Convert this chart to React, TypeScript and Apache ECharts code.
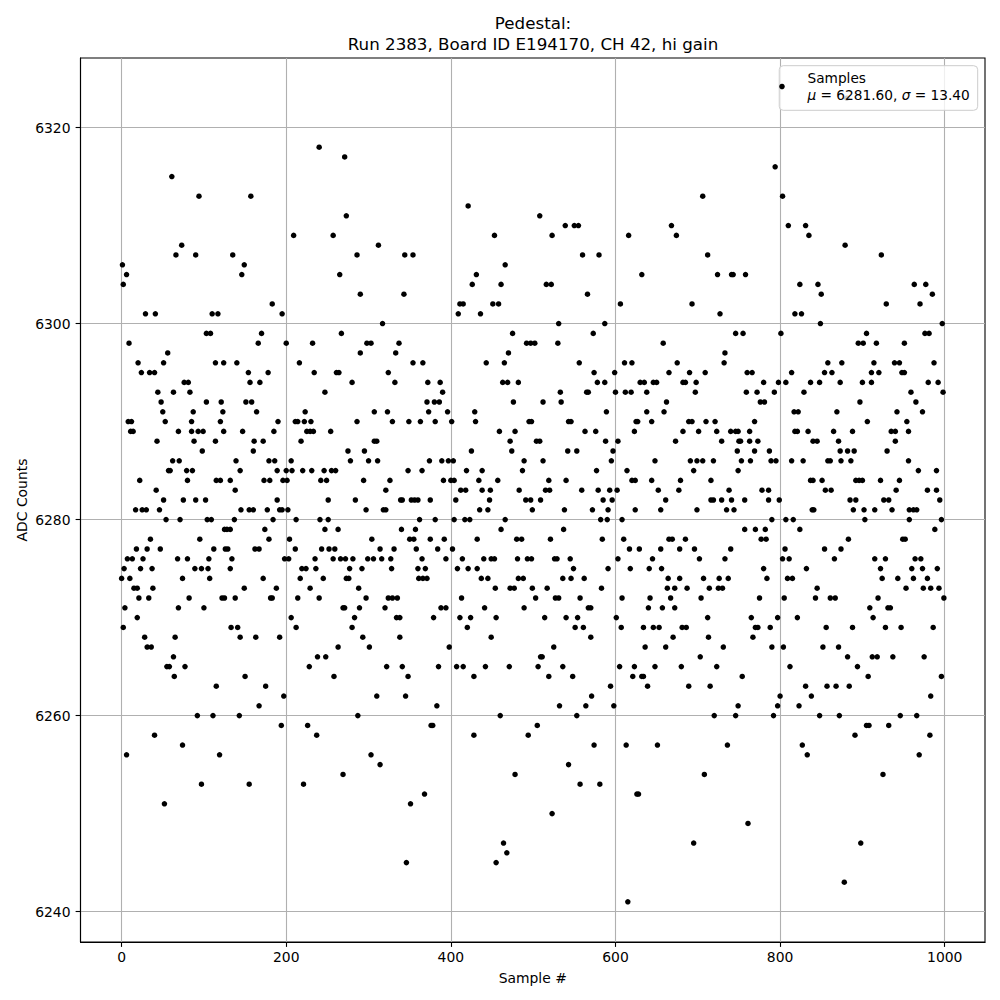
import React, { useEffect, useRef } from 'react';
import * as echarts from 'echarts';

const TITLE = 'Pedestal:\nRun 2383, Board ID E194170, CH 42, hi gain';
const X_LABEL = 'Sample #';
const Y_LABEL = 'ADC Counts';
const SERIES_NAME = 'Samples';
const MU = '6281.60';
const SIGMA = '13.40';
const xTicks = [0, 200, 400, 600, 800, 1000];
const yTicks = [6240, 6260, 6280, 6300, 6320];
const xRange = [-49.95, 1048.95];
const yRange = [6236.9, 6327.1];

// [sample #, ADC counts], in blocks of ~125 samples
const seg0 = [[61,6315],[94,6313],[73,6308],[66,6307],[90,6307],[1,6306],[6,6305],[2,6304],[29,6301],[41,6301],[110,6301],[117,6301],[103,6299],[108,6299],[9,6298],[20,6296],[51,6296],[114,6296],[124,6296],[56,6297],[24,6295],[34,6295],[40,6295],[76,6294],[81,6294],[44,6293],[63,6293],[83,6293],[48,6292],[50,6291],[87,6291],[103,6292],[121,6292],[123,6291],[8,6290],[12,6290],[53,6290],[85,6290],[120,6290],[11,6289],[14,6289],[69,6289],[85,6289],[93,6289],[99,6289],[124,6289],[43,6288],[88,6288],[114,6288],[98,6287],[62,6286],[70,6286],[57,6285],[59,6285],[79,6285],[86,6285],[22,6284],[80,6284],[115,6284],[120,6284],[42,6283],[51,6282],[75,6282],[90,6282],[102,6282],[17,6281],[25,6281],[30,6281],[46,6281],[54,6280],[71,6280],[104,6280],[109,6280],[125,6279],[35,6278],[95,6278],[18,6277],[31,6277],[47,6277],[112,6277],[126,6277],[7,6276],[13,6276],[26,6276],[68,6276],[80,6276],[106,6276],[3,6275],[23,6275],[37,6275],[89,6275],[97,6275],[105,6275],[0,6274],[10,6274],[74,6274],[107,6274],[15,6273],[19,6273],[38,6273],[21,6272],[33,6272],[82,6272],[122,6272],[125,6272],[4,6271],[69,6271],[100,6271],[19,6270],[2,6269],[28,6268],[65,6268],[31,6267],[36,6267],[63,6266],[55,6265],[58,6265],[77,6265],[64,6264],[115,6263],[92,6260],[111,6260],[40,6258],[74,6257],[6,6256],[119,6256],[97,6253],[52,6251]];

const seg1 = [[240,6318],[157,6313],[209,6309],[135,6307],[149,6306],[146,6305],[183,6302],[195,6301],[170,6299],[166,6298],[200,6298],[232,6298],[140,6296],[216,6296],[154,6295],[178,6295],[234,6295],[156,6294],[168,6294],[247,6293],[151,6292],[158,6292],[164,6291],[223,6291],[190,6290],[211,6290],[214,6290],[222,6290],[230,6290],[147,6289],[185,6289],[225,6289],[229,6289],[233,6289],[161,6288],[172,6288],[218,6288],[160,6287],[139,6286],[179,6286],[186,6286],[206,6286],[144,6285],[189,6285],[200,6285],[207,6285],[220,6285],[231,6285],[246,6285],[132,6284],[173,6284],[180,6284],[196,6284],[201,6284],[242,6284],[249,6284],[138,6283],[189,6282],[251,6282],[145,6281],[155,6281],[160,6281],[177,6281],[192,6281],[195,6281],[202,6281],[137,6280],[184,6280],[212,6280],[241,6280],[251,6280],[128,6279],[132,6279],[174,6279],[247,6279],[179,6278],[204,6278],[129,6277],[162,6277],[167,6277],[211,6277],[243,6277],[134,6276],[198,6276],[203,6276],[235,6276],[132,6275],[219,6275],[224,6275],[236,6275],[172,6274],[217,6274],[245,6274],[149,6273],[188,6273],[229,6273],[138,6272],[181,6272],[183,6272],[214,6272],[240,6272],[206,6270],[133,6269],[141,6269],[212,6269],[144,6268],[163,6268],[192,6268],[238,6266],[248,6266],[228,6265],[150,6264],[175,6263],[197,6262],[167,6261],[143,6260],[194,6259],[226,6259],[237,6258],[155,6253],[221,6253]];

const seg2 = [[271,6317],[273,6311],[257,6309],[312,6308],[286,6307],[344,6307],[354,6307],[265,6305],[290,6303],[343,6303],[317,6300],[267,6299],[298,6298],[303,6298],[337,6298],[290,6297],[333,6297],[354,6296],[366,6296],[261,6295],[264,6295],[324,6295],[280,6294],[332,6294],[372,6294],[371,6292],[373,6291],[307,6291],[323,6291],[286,6290],[329,6290],[349,6290],[363,6290],[254,6289],[307,6288],[310,6288],[275,6287],[295,6287],[278,6286],[300,6286],[311,6286],[374,6286],[255,6285],[260,6285],[348,6285],[365,6285],[294,6284],[326,6284],[321,6283],[284,6282],[339,6282],[341,6282],[352,6282],[356,6282],[360,6282],[375,6282],[297,6281],[318,6281],[321,6281],[362,6280],[263,6279],[340,6279],[357,6279],[350,6278],[355,6278],[375,6278],[304,6278],[252,6277],[259,6277],[314,6277],[331,6277],[358,6277],[257,6276],[266,6276],[272,6276],[281,6276],[299,6276],[306,6276],[316,6276],[327,6276],[365,6276],[277,6275],[292,6275],[328,6275],[360,6275],[369,6275],[273,6274],[276,6274],[361,6274],[366,6274],[371,6274],[288,6273],[297,6272],[324,6272],[329,6272],[335,6272],[269,6271],[271,6271],[289,6271],[320,6271],[334,6270],[338,6270],[283,6270],[280,6269],[293,6268],[338,6268],[263,6267],[301,6267],[322,6265],[341,6265],[258,6264],[348,6264],[310,6262],[345,6262],[287,6260],[376,6259],[303,6256],[314,6255],[269,6254],[368,6252],[351,6251],[346,6245]];

const seg3 = [[421,6312],[453,6309],[466,6306],[431,6305],[426,6304],[461,6304],[411,6302],[415,6302],[451,6302],[458,6302],[409,6301],[436,6301],[475,6299],[492,6298],[497,6298],[470,6297],[443,6296],[465,6296],[387,6294],[463,6294],[469,6294],[482,6294],[390,6293],[380,6292],[386,6292],[476,6292],[396,6291],[429,6291],[381,6290],[401,6290],[430,6290],[495,6290],[498,6290],[459,6289],[478,6289],[472,6288],[425,6287],[474,6287],[389,6286],[397,6286],[403,6286],[489,6286],[419,6285],[438,6285],[487,6285],[391,6284],[400,6284],[404,6284],[434,6284],[457,6284],[412,6283],[418,6283],[438,6283],[448,6283],[483,6283],[406,6282],[447,6282],[491,6282],[497,6282],[435,6281],[445,6281],[499,6281],[381,6280],[404,6280],[417,6280],[423,6280],[466,6280],[461,6279],[392,6278],[432,6278],[480,6278],[486,6278],[384,6277],[402,6277],[394,6276],[414,6276],[440,6276],[449,6276],[453,6276],[481,6276],[493,6276],[498,6276],[408,6275],[421,6275],[432,6275],[437,6274],[445,6274],[482,6274],[488,6274],[454,6273],[472,6273],[477,6273],[499,6273],[413,6272],[388,6271],[394,6271],[441,6271],[489,6271],[379,6270],[411,6270],[424,6270],[455,6270],[420,6269],[449,6268],[398,6267],[385,6265],[407,6265],[415,6265],[442,6265],[471,6265],[428,6264],[383,6261],[460,6260],[378,6259],[428,6258],[494,6258],[478,6254],[464,6247],[468,6246],[455,6245]];

const seg4 = [[508,6311],[523,6309],[539,6310],[550,6310],[555,6310],[616,6309],[560,6307],[580,6307],[516,6304],[522,6304],[566,6303],[606,6302],[531,6300],[587,6300],[573,6299],[502,6298],[530,6298],[556,6296],[611,6296],[620,6296],[574,6295],[599,6295],[578,6294],[587,6294],[533,6293],[565,6293],[567,6293],[600,6293],[612,6293],[619,6293],[512,6292],[534,6292],[589,6291],[543,6290],[546,6290],[625,6290],[563,6289],[576,6289],[623,6289],[504,6288],[508,6288],[588,6288],[603,6288],[542,6287],[553,6287],[597,6287],[512,6286],[595,6286],[577,6285],[614,6285],[519,6284],[540,6284],[620,6284],[624,6284],[515,6283],[520,6283],[559,6283],[579,6283],[593,6283],[602,6283],[509,6282],[585,6282],[596,6282],[538,6281],[572,6281],[591,6281],[624,6281],[582,6280],[590,6280],[608,6280],[537,6279],[521,6278],[584,6278],[610,6278],[617,6277],[526,6276],[529,6276],[545,6276],[603,6276],[549,6275],[591,6275],[618,6275],[536,6274],[546,6274],[562,6274],[517,6273],[583,6273],[503,6272],[527,6272],[531,6272],[557,6272],[608,6272],[567,6271],[570,6271],[514,6270],[540,6270],[554,6270],[601,6270],[551,6269],[561,6269],[607,6269],[570,6268],[525,6267],[509,6266],[511,6266],[506,6265],[536,6265],[605,6265],[623,6265],[519,6264],[548,6264],[621,6264],[594,6263],[571,6262],[532,6261],[564,6261],[598,6261],[553,6260],[505,6259],[574,6257],[613,6257],[543,6255],[557,6253],[581,6253],[626,6252],[523,6250],[615,6241]];

const seg5 = [[706,6313],[668,6310],[674,6309],[712,6307],[632,6305],[724,6305],[741,6305],[743,6305],[693,6302],[727,6301],[746,6299],[658,6298],[733,6297],[675,6296],[732,6296],[665,6295],[690,6295],[709,6295],[630,6294],[635,6294],[646,6294],[650,6294],[682,6294],[685,6294],[698,6294],[638,6293],[697,6293],[662,6292],[638,6291],[659,6291],[627,6290],[644,6290],[689,6290],[693,6290],[710,6290],[721,6290],[682,6289],[701,6289],[723,6289],[740,6289],[746,6289],[749,6289],[673,6288],[729,6288],[750,6288],[748,6287],[648,6286],[691,6286],[699,6286],[706,6286],[719,6286],[695,6285],[749,6285],[644,6284],[679,6284],[716,6284],[652,6283],[677,6283],[738,6283],[661,6282],[716,6282],[719,6282],[729,6282],[741,6282],[655,6281],[699,6281],[735,6281],[744,6281],[665,6278],[669,6278],[685,6278],[629,6277],[655,6277],[678,6277],[696,6277],[740,6277],[645,6276],[702,6276],[733,6276],[641,6275],[656,6275],[664,6274],[678,6274],[707,6274],[726,6274],[737,6274],[663,6273],[672,6273],[687,6273],[714,6273],[725,6273],[730,6273],[642,6272],[667,6272],[704,6272],[640,6271],[657,6271],[672,6271],[712,6270],[634,6269],[646,6269],[653,6269],[681,6269],[686,6269],[670,6268],[713,6268],[636,6267],[661,6267],[731,6267],[703,6266],[648,6265],[680,6265],[723,6265],[632,6264],[634,6264],[639,6263],[689,6263],[715,6263],[749,6261],[720,6260],[746,6260],[651,6257],[736,6257],[708,6254],[628,6252],[695,6247]];

const seg6 = [[794,6316],[803,6313],[810,6310],[831,6310],[835,6309],[758,6305],[824,6304],[846,6304],[850,6303],[818,6301],[826,6301],[849,6300],[755,6299],[801,6299],[858,6296],[875,6296],[760,6295],[766,6295],[814,6295],[854,6295],[863,6295],[780,6294],[798,6294],[807,6294],[837,6294],[848,6294],[873,6294],[759,6293],[772,6293],[793,6293],[829,6293],[776,6292],[781,6292],[817,6291],[822,6291],[869,6291],[769,6290],[763,6289],[818,6289],[821,6289],[834,6289],[865,6289],[752,6288],[763,6288],[773,6288],[840,6288],[845,6288],[871,6288],[769,6287],[787,6287],[873,6287],[753,6286],[764,6286],[789,6286],[795,6286],[814,6286],[828,6286],[858,6286],[861,6286],[874,6286],[837,6284],[840,6284],[851,6284],[778,6283],[786,6283],[855,6283],[862,6283],[757,6282],[786,6282],[799,6282],[839,6281],[841,6281],[790,6280],[807,6280],[816,6280],[757,6279],[770,6279],[782,6279],[824,6279],[777,6278],[783,6278],[806,6277],[854,6277],[874,6277],[803,6276],[811,6276],[866,6276],[780,6275],[832,6275],[784,6274],[809,6274],[815,6274],[845,6273],[775,6272],[805,6272],[843,6272],[861,6272],[867,6272],[765,6270],[797,6270],[821,6270],[770,6269],[773,6269],[788,6269],[856,6269],[767,6268],[790,6267],[804,6267],[852,6267],[871,6267],[812,6265],[754,6264],[831,6263],[857,6263],[868,6263],[838,6262],[800,6262],[797,6261],[823,6261],[792,6260],[848,6260],[872,6260],[827,6257],[833,6256],[761,6249]];

const seg7 = [[879,6308],[923,6307],[963,6304],[977,6304],[985,6303],[929,6302],[970,6302],[997,6300],[905,6299],[976,6299],[981,6299],[895,6298],[901,6298],[917,6298],[951,6298],[914,6296],[939,6296],[945,6296],[987,6296],[911,6295],[920,6295],[948,6295],[951,6295],[900,6294],[911,6294],[980,6294],[992,6294],[959,6293],[998,6293],[897,6292],[965,6292],[942,6291],[973,6291],[906,6290],[954,6290],[888,6289],[935,6289],[940,6289],[956,6289],[940,6288],[882,6287],[890,6287],[930,6287],[886,6286],[956,6286],[968,6285],[990,6285],[892,6284],[896,6284],[900,6284],[922,6284],[945,6284],[941,6283],[979,6283],[990,6283],[885,6282],[892,6282],[926,6282],[932,6282],[994,6282],[889,6281],[902,6281],[915,6281],[936,6281],[957,6281],[962,6281],[966,6281],[903,6280],[957,6280],[996,6280],[988,6279],[883,6278],[949,6278],[952,6278],[915,6276],[928,6276],[964,6276],[971,6276],[922,6275],[960,6275],[973,6275],[991,6275],[924,6274],[943,6274],[962,6274],[979,6274],[953,6273],[974,6273],[983,6273],[993,6273],[919,6272],[999,6272],[909,6271],[931,6271],[934,6271],[913,6270],[888,6269],[928,6269],[947,6269],[986,6269],[882,6266],[912,6266],[918,6266],[937,6266],[975,6266],[894,6265],[907,6264],[996,6264],[884,6263],[983,6262],[946,6260],[966,6260],[891,6258],[905,6259],[908,6259],[932,6259],[982,6258],[969,6256],[925,6254],[898,6247],[878,6243],[881,6323]];

const samples = [...seg0, ...seg1, ...seg2, ...seg3, ...seg4, ...seg5, ...seg6, ...seg7];

const FONT = "'DejaVu Sans', 'Liberation Sans', sans-serif";

export default function App() {
  const ref = useRef<HTMLDivElement>(null);

  useEffect(() => {
    if (!ref.current) return;
    const chart = echarts.init(ref.current, undefined, { renderer: 'svg' });
    const axisCommon = {
      type: 'value',
      nameLocation: 'middle',
      nameMoveOverlap: false,
      nameTextStyle: { fontSize: 13.9, color: '#000', fontFamily: FONT },
      axisLine: { show: true, onZero: false, lineStyle: { color: '#000', width: 1.1 } },
      splitLine: { show: true, lineStyle: { color: '#b0b0b0', width: 1.1 } },
    };
    chart.setOption({
      animation: false,
      backgroundColor: '#ffffff',
      textStyle: { fontFamily: FONT },
      title: {
        text: TITLE,
        left: 533,
        top: 12.5,
        padding: 0,
        textAlign: 'center',
        textStyle: { fontSize: 16.7, fontWeight: 'normal', color: '#000', lineHeight: 21, fontFamily: FONT },
      },
      grid: {
        left: 80.5,
        right: 15,
        top: 58,
        bottom: 58,
        show: true,
        borderColor: '#000',
        borderWidth: 1.1,
        backgroundColor: 'transparent',
        containLabel: false,
      },
      xAxis: {
        ...axisCommon,
        min: xRange[0],
        max: xRange[1],
        name: X_LABEL,
        nameGap: 29,
        axisTick: { show: true, length: 4.9, lineStyle: { color: '#000', width: 1.1 }, customValues: xTicks },
        axisLabel: {
          customValues: xTicks,
          margin: 8,
          fontSize: 13.9,
          color: '#000',
          fontFamily: FONT,
          formatter: (v: number) => String(v),
        },
      },
      yAxis: {
        ...axisCommon,
        min: yRange[0],
        max: yRange[1],
        name: Y_LABEL,
        nameGap: 52,
        axisTick: { show: true, length: 4.9, lineStyle: { color: '#000', width: 1.1 }, customValues: yTicks },
        axisLabel: {
          customValues: yTicks,
          margin: 10,
          fontSize: 13.9,
          color: '#000',
          fontFamily: FONT,
          formatter: (v: number) => String(v),
        },
      },
      legend: {
        data: [{ name: SERIES_NAME, icon: 'circle' }],
        right: 22.3,
        top: 65.7,
        orient: 'vertical',
        padding: [3.5, 8, 6.5, 0],
        itemWidth: 41,
        itemHeight: 5.5,
        backgroundColor: 'rgba(255,255,255,0.8)',
        borderColor: '#cccccc',
        borderWidth: 1,
        borderRadius: 4,
        itemStyle: { color: '#000' },
        formatter: () => `{n|${SERIES_NAME}}\n{i|μ}{n| = ${MU}, }{i|σ}{n| = ${SIGMA}}`,
        textStyle: {
          color: '#000',
          fontSize: 13.7,
          lineHeight: 17.3,
          fontFamily: FONT,
          rich: {
            n: { fontSize: 13.7, lineHeight: 17.3, color: '#000', fontFamily: FONT },
            i: { fontSize: 13.7, lineHeight: 17.3, color: '#000', fontFamily: FONT, fontStyle: 'italic' },
          },
        },
      },
      series: [
        {
          type: 'scatter',
          name: SERIES_NAME,
          data: samples,
          symbol: 'circle',
          symbolSize: 5.5,
          itemStyle: { color: '#000', opacity: 1 },
          emphasis: { disabled: true },
        },
      ],
    });
    return () => chart.dispose();
  }, []);

  return (
    <div
      ref={ref}
      style={{ position: 'absolute', left: 0, top: 0, width: 1000, height: 1000, background: '#fff' }}
    />
  );
}
